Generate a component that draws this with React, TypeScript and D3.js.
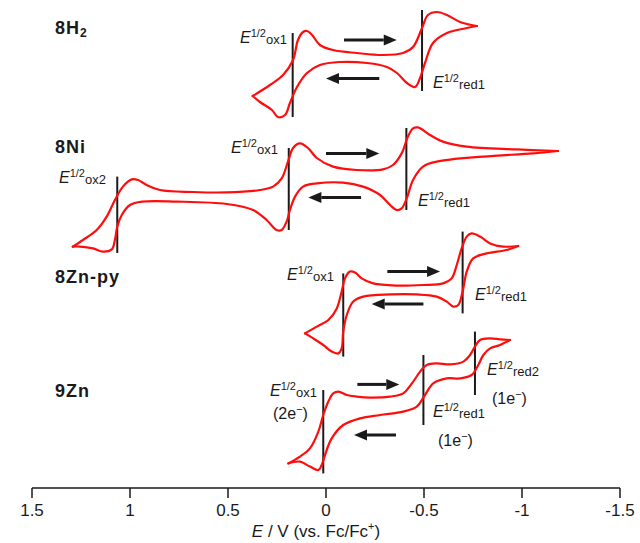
import React from "react";
import * as d3 from "d3";

// potential axis
const potentialTicks = [1.5, 1, 0.5, 0, -0.5, -1, -1.5];

const compoundNames = ["8H", "8Ni", "8Zn-py", "9Zn"];
const compoundSubs = ["2", "", "", ""];

// [E (V vs Fc/Fc+), current (a.u.)]; forward = upper branch (sweep to negative E)
const h2Forward: [number, number][] = [
  [0.374, -19], [0.286, -13.5], [0.219, -8.5], [0.168, -1], [0.143, 9], [0.117, 13],
  [0.097, 13.5], [0.071, 11.5], [0.031, 6.5], [-0.036, 4], [-0.158, 2.5], [-0.291, 1.5],
  [-0.393, 2.5], [-0.444, 5.5], [-0.49, 15], [-0.52, 21.5], [-0.566, 23], [-0.617, 21.5],
  [-0.684, 18], [-0.77, 16],
];
const h2Reverse: [number, number][] = [
  [-0.719, 15], [-0.617, 12.5], [-0.546, 7.5], [-0.505, -2.5], [-0.48, -10], [-0.454, -14.5],
  [-0.413, -12.5], [-0.362, -7.5], [-0.311, -4.5], [-0.209, -2.5], [-0.071, -2], [0.031, -3.5],
  [0.097, -7.5], [0.148, -14.5], [0.184, -22.5], [0.209, -28.5], [0.245, -29.5], [0.276, -26],
  [0.337, -22],
];

const niForward: [number, number][] = [
  [1.292, -25.8], [1.24, -22.5], [1.17, -17.5], [1.119, -10.8], [1.077, -2.5], [1.036, 4.2],
  [0.991, 7.8], [0.959, 7.5], [0.915, 5], [0.847, 2.5], [0.679, 1.5], [0.507, 1.3],
  [0.337, 2.5], [0.27, 4.2], [0.226, 8.3], [0.194, 16.7], [0.168, 23.5], [0.133, 25.8],
  [0.092, 23.5], [0.047, 18.5], [-0.036, 14.2], [-0.157, 12.5], [-0.291, 12.8], [-0.342, 15],
  [-0.386, 20.8], [-0.418, 29.2], [-0.444, 33.3], [-0.469, 33.8], [-0.531, 30], [-0.597, 26.7],
  [-0.718, 24.2], [-0.973, 22.8], [-1.184, 22],
];
const niReverse: [number, number][] = [
  [-1.056, 20.8], [-0.801, 19.2], [-0.565, 16.7], [-0.495, 14.2], [-0.444, 7.5], [-0.412, -1.7],
  [-0.386, -6.7], [-0.361, -7.5], [-0.327, -5], [-0.276, 0], [-0.189, 4.2], [-0.087, 6.2],
  [0.047, 5.8], [0.117, 4.2], [0.158, -0.8], [0.184, -7.5], [0.201, -13.3], [0.226, -17.5],
  [0.252, -17.5], [0.303, -12.5], [0.372, -7.5], [0.507, -4.5], [0.762, -3.3], [0.934, -3.3],
  [1.0, -5], [1.042, -10], [1.065, -15.8], [1.077, -22.5], [1.093, -27.2], [1.138, -28.3],
  [1.189, -26.7], [1.255, -25.8],
];

const znpyForward: [number, number][] = [
  [0.107, -21.7], [0.047, -18.3], [-0.012, -15], [-0.055, -9.2], [-0.08, -0.8], [-0.097, 5.8],
  [-0.122, 9.2], [-0.148, 8.7], [-0.182, 5.8], [-0.241, 3.3], [-0.361, 2.2], [-0.496, 2.5],
  [-0.598, 3.3], [-0.641, 5.8], [-0.667, 12.5], [-0.692, 20.8], [-0.718, 26.7], [-0.743, 28.3],
  [-0.786, 26.7], [-0.837, 23.3], [-0.905, 21.7], [-0.981, 22],
];
const znpyReverse: [number, number][] = [
  [-0.922, 20], [-0.82, 18.3], [-0.751, 15.8], [-0.718, 9.2], [-0.697, -0.8], [-0.675, -7.5],
  [-0.649, -8.3], [-0.616, -5.8], [-0.565, -3.3], [-0.463, -2.2], [-0.327, -2.2], [-0.19, -3.3],
  [-0.139, -5.8], [-0.106, -12.5], [-0.088, -20.8], [-0.08, -29.2], [-0.063, -31.7], [-0.029, -30.8],
  [0.014, -27.5], [0.065, -24.2],
];

const zn9Forward: [number, number][] = [
  [0.192, -29.2], [0.133, -25.8], [0.082, -21.7], [0.039, -13.3], [0.014, -5], [-0.012, 1.7],
  [-0.037, 5.8], [-0.063, 6.7], [-0.106, 5], [-0.157, 4.2], [-0.224, 3.7], [-0.327, 4.2],
  [-0.394, 5.8], [-0.445, 11.7], [-0.48, 16.7], [-0.514, 20], [-0.565, 20.8], [-0.633, 20.3],
  [-0.701, 21.7], [-0.735, 25], [-0.76, 29.2], [-0.786, 32.5], [-0.837, 33.3], [-0.888, 32.8],
  [-0.939, 32.5],
];
const zn9Reverse: [number, number][] = [
  [-0.888, 30], [-0.837, 28.3], [-0.803, 25], [-0.777, 20], [-0.743, 15], [-0.684, 13.3],
  [-0.616, 13.3], [-0.547, 10.8], [-0.505, 5], [-0.463, -0.8], [-0.394, -3.3], [-0.276, -5],
  [-0.173, -6.7], [-0.088, -10], [-0.029, -16.7], [0.005, -25], [0.022, -30], [0.039, -32.5],
  [0.082, -30.8], [0.133, -28.3],
];

// half-wave potentials (V) and the current span of their marker lines
const h2Halves = [0.17, -0.49];
const h2Spans = [[12.5, -29.5], [24, -16.5]];
const h2Subs = ["ox1", "red1"];

const niHalves = [1.065, 0.19, -0.41];
const niSpans = [[9.2, -29], [23.5, -17.5], [33.5, -7.5]];
const niSubs = ["ox2", "ox1", "red1"];

const znpyHalves = [-0.088, -0.697];
const znpySpans = [[8.3, -33.3], [29.2, -11.7]];
const znpySubs = ["ox1", "red1"];

const zn9Halves = [0.014, -0.497, -0.76];
const zn9Spans = [[7.5, -34.2], [25, -10], [36.7, 5]];
const zn9Subs = ["ox1", "red1", "red2"];
const zn9Electrons = ["2e", "1e", "1e"];

// sweep-direction arrows: [from E, to E, current]
const h2Arrows = [[-0.092, -0.361, 9], [-0.272, 0, -10.2]];
const niArrows = [[0, -0.272, 20.8], [-0.179, 0.09, -1.3]];
const znpyArrows = [[-0.313, -0.582, 9.2], [-0.497, -0.233, -7]];
const zn9Arrows = [[-0.16, -0.374, 10.3], [-0.357, -0.143, -15]];

const W = 640;
const H = 543;
const RED = "#ff0d0d";
const INK = "#1a1a1a";
const SANS = "'Liberation Sans', Arial, Helvetica, sans-serif";

const x = d3.scaleLinear().domain([1.5, -1.5]).range([32, 620]);
const y = d3.scaleLinear().domain([0, 240]).range([480, 0]);

const panels = [
  {
    fwd: h2Forward, rev: h2Reverse, halves: h2Halves, spans: h2Spans, subs: h2Subs,
    arrows: h2Arrows, electrons: null as string[] | null, offset: 211,
    namePos: [55, 34], labelPos: [[240, 43], [433, 88]], elecPos: [] as number[][],
  },
  {
    fwd: niForward, rev: niReverse, halves: niHalves, spans: niSpans, subs: niSubs,
    arrows: niArrows, electrons: null, offset: 142.5,
    namePos: [55, 153], labelPos: [[59, 183], [231, 153], [418, 206]], elecPos: [],
  },
  {
    fwd: znpyForward, rev: znpyReverse, halves: znpyHalves, spans: znpySpans, subs: znpySubs,
    arrows: znpyArrows, electrons: null, offset: 95,
    namePos: [55, 283], labelPos: [[287, 280], [475, 300]], elecPos: [],
  },
  {
    fwd: zn9Forward, rev: zn9Reverse, halves: zn9Halves, spans: zn9Spans, subs: zn9Subs,
    arrows: zn9Arrows, electrons: zn9Electrons, offset: 37.5,
    namePos: [55, 397], labelPos: [[270, 396], [433, 417], [487, 375]],
    elecPos: [[273, 419], [438, 446], [492, 404]],
  },
];

const HalfLabel = ({ px, py, sub }: { px: number; py: number; sub: string }) => (
  <text x={px} y={py} fontFamily={SANS} fill={INK}>
    <tspan fontStyle="italic" fontSize={16}>E</tspan>
    <tspan fontSize={11} dy={-6}>1/2</tspan>
    <tspan fontSize={13} dy={7}>{sub}</tspan>
  </text>
);

const Arrow = ({ a, offset }: { a: number[]; offset: number }) => {
  const x1 = x(a[0]);
  const x2 = x(a[1]);
  const yy = y(a[2] + offset);
  const dir = Math.sign(x2 - x1);
  const head = 13;
  const half = 5.5;
  return (
    <g>
      <line x1={x1} x2={x2 - dir * head} y1={yy} y2={yy} stroke={INK} strokeWidth={3} />
      <path
        d={`M${x2},${yy} L${x2 - dir * head},${yy - half} L${x2 - dir * head},${yy + half} Z`}
        fill={INK}
      />
    </g>
  );
};

export default function App() {
  return (
    <svg
      width={W}
      height={H}
      style={{ position: "absolute", left: 0, top: 0, background: "#fff" }}
    >
      {panels.map((p, i) => {
        const line = d3
          .line<[number, number]>()
          .x((d) => x(d[0]))
          .y((d) => y(d[1] + p.offset))
          .curve(d3.curveCatmullRom.alpha(0.5));
        const upper = p.fwd;
        const lower: [number, number][] = [p.fwd[p.fwd.length - 1], ...p.rev, p.fwd[0]];
        return (
          <g key={i}>
            <text
              x={p.namePos[0]}
              y={p.namePos[1]}
              fontFamily={SANS}
              fontWeight="bold"
              fontSize={18}
              letterSpacing={1}
              fill={INK}
            >
              {compoundNames[i]}
              {compoundSubs[i] && (
                <tspan fontSize={12} dy={3}>
                  {compoundSubs[i]}
                </tspan>
              )}
            </text>
            {p.halves.map((e, j) => (
              <line
                key={"h" + j}
                x1={x(e)}
                x2={x(e)}
                y1={y(p.spans[j][0] + p.offset)}
                y2={y(p.spans[j][1] + p.offset)}
                stroke={INK}
                strokeWidth={2}
              />
            ))}
            <path d={line(upper) || ""} fill="none" stroke={RED} strokeWidth={2.2} strokeLinejoin="round" strokeLinecap="round" />
            <path d={line(lower) || ""} fill="none" stroke={RED} strokeWidth={2.2} strokeLinejoin="round" strokeLinecap="round" />
            {p.arrows.map((a, j) => (
              <Arrow key={"a" + j} a={a} offset={p.offset} />
            ))}
            {p.subs.map((s, j) => (
              <HalfLabel key={"l" + j} px={p.labelPos[j][0]} py={p.labelPos[j][1]} sub={s} />
            ))}
            {p.electrons &&
              p.electrons.map((el, j) => (
                <text key={"e" + j} x={p.elecPos[j][0]} y={p.elecPos[j][1]} fontFamily={SANS} fontSize={16} fill={INK}>
                  ({el}
                  <tspan fontSize={11} dy={-6}>−</tspan>
                  <tspan dy={6}>)</tspan>
                </text>
              ))}
          </g>
        );
      })}

      {/* potential axis */}
      <g>
        <line x1={x(1.5)} x2={x(-1.5)} y1={488} y2={488} stroke={INK} strokeWidth={1.5} />
        {potentialTicks.map((t) => (
          <g key={t}>
            <line x1={x(t)} x2={x(t)} y1={488} y2={498} stroke={INK} strokeWidth={1.5} />
            <text x={x(t)} y={516} textAnchor="middle" fontFamily={SANS} fontSize={17} fill={INK}>
              {String(t)}
            </text>
          </g>
        ))}
        <text x={316} y={537} textAnchor="middle" fontFamily={SANS} fontSize={17} fill={INK}>
          <tspan fontStyle="italic">E</tspan> / V (vs. Fc/Fc
          <tspan fontSize={11} dy={-7}>+</tspan>
          <tspan dy={7}>)</tspan>
        </text>
      </g>
    </svg>
  );
}
